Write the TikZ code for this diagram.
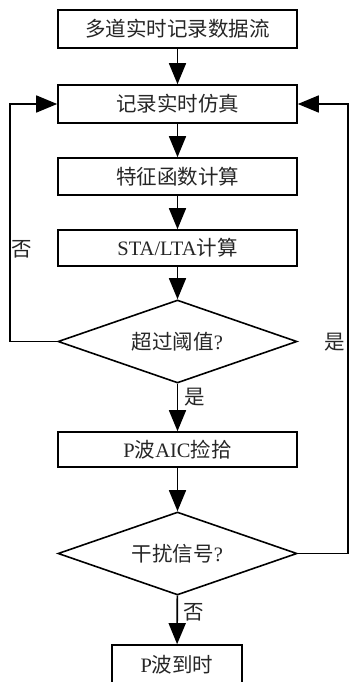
\documentclass[tikz,border=0pt]{standalone}
\usepackage{fontspec}
\setmainfont{Liberation Serif}
\newfontfamily\cjk{Noto Sans CJK SC}
\usetikzlibrary{arrows.meta,shapes.geometric}
\begin{document}
\begin{tikzpicture}[x=1pt,y=-1pt,
  every node/.style={font=\fontsize{20.5}{24}\selectfont, text=black!85},
  box/.style={draw, line width=1.6pt, rectangle, minimum width=239pt, inner sep=0pt},
  dia/.style={draw, line width=1.6pt, diamond, aspect=2.88, minimum width=239pt, minimum height=83pt, inner sep=0pt},
  arr/.style={line width=1.6pt, -{Triangle[length=21pt,width=17pt]}},
  lbl/.style={inner sep=0pt}]
\useasboundingbox (0,0) rectangle (350,682);
\fill[white] (0,0) rectangle (350,682);
\begin{scope}
\clip (0,0) rectangle (350,682);
\node[box, minimum height=38pt] (b1) at (177.5,29) {\cjk 多道实时记录数据流};
\node[box, minimum height=38pt] (b2) at (177.5,104) {\cjk 记录实时仿真};
\node[box, minimum height=37pt] (b3) at (177.5,176.5) {\cjk 特征函数计算};
\node[box, minimum height=36pt] (b4) at (177.5,248) {STA/LTA{\cjk 计算}};
\node[dia] (d1) at (177.5,341.5) {{\cjk 超过阈值}?};
\node[box, minimum height=35pt] (b5) at (177.5,449.5) {P{\cjk 波}AIC{\cjk 捡拾}};
\node[dia] (d2) at (177.5,553.5) {{\cjk 干扰信号}?};
\node[box, minimum width=130pt, minimum height=40pt] (b6) at (177,665) {P{\cjk 波到时}};
\coordinate (L) at (10,341.5);
\coordinate (R) at (348,553.5);
\draw[arr] (b1) -- (b2);
\draw[arr] (b2) -- (b3);
\draw[arr] (b3) -- (b4);
\draw[arr] (b4) -- (d1);
\draw[arr] (d1) -- (b5);
\draw[arr] (b5) -- (d2);
\draw[arr] (d2) -- (b6);
\draw[arr] (d1.west) -- (L) |- (b2.west);
\draw[arr] (d2.east) -- (R) |- (b2.east);
\node[lbl] (n1) at (22,249) {\cjk 否};
\node[lbl] (y1) at (335,342) {\cjk 是};
\node[lbl] (y2) at (195,397) {\cjk 是};
\node[lbl] (n2) at (194,612) {\cjk 否};
\end{scope}
\end{tikzpicture}
\end{document}
